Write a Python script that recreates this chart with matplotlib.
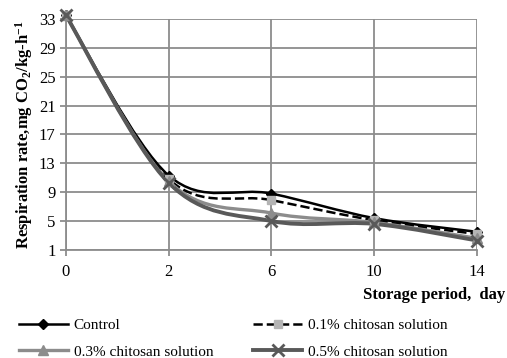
import numpy as np
import matplotlib
matplotlib.use("Agg")
import matplotlib.pyplot as plt
from matplotlib.path import Path
from matplotlib.patches import PathPatch
from matplotlib.lines import Line2D

plt.rcParams['font.family'] = ['Liberation Serif', 'DejaVu Serif']
plt.rcParams['mathtext.fontset'] = 'custom'
plt.rcParams['mathtext.rm'] = 'Liberation Serif:bold'
plt.rcParams['mathtext.it'] = 'Liberation Serif:bold'
plt.rcParams['mathtext.bf'] = 'Liberation Serif:bold'

# data
days = ['0', '2', '6', '10', '14']
control = [33.5, 11.3, 8.8, 5.4, 3.5]
chit_01 = [33.5, 10.8, 7.9, 5.1, 3.2]
chit_03 = [33.5, 10.5, 6.1, 4.8, 2.6]
chit_05 = [33.5, 10.3, 5.0, 4.6, 2.3]
yticks = [1, 5, 9, 13, 17, 21, 25, 29, 33]


def smooth_path(xs, ys):
    # excel style smoothed line, bezier through the points
    pts = np.column_stack([xs, ys]).astype(float)
    n = len(pts)
    verts = [pts[0]]
    codes = [Path.MOVETO]
    for i in range(n - 1):
        p0 = pts[max(i - 1, 0)]
        p1 = pts[i]
        p2 = pts[i + 1]
        p3 = pts[min(i + 2, n - 1)]
        c1 = p1 + (p2 - p0) / 6.0
        c2 = p2 - (p3 - p1) / 6.0
        verts += [c1, c2, p2]
        codes += [Path.CURVE4] * 3
    return Path(verts, codes)


fig = plt.figure(figsize=(5.07, 3.58), dpi=100)
ax = fig.add_axes([0.130, 0.302, 0.811, 0.645])

x = np.arange(len(days))
series = [
    (control, 'Control', '#000000', '-', 1.8, 'D', 5, '#000000', 1),
    (chit_01, '0.1% chitosan solution', '#000000', '--', 1.8, 's', 6, '#b4b4b4', 1),
    (chit_03, '0.3% chitosan solution', '#8c8c8c', '-', 2.4, '^', 7, '#8c8c8c', 1),
    (chit_05, '0.5% chitosan solution', '#595959', '-', 2.8, 'x', 8, '#595959', 2),
]
handles = []
for ys, lab, col, ls, lw, mk, ms, mcol, mew in series:
    patch = PathPatch(smooth_path(x, ys), facecolor='none', edgecolor=col,
                      lw=lw, linestyle=ls, clip_on=False, zorder=3)
    ax.add_patch(patch)
    ax.plot(x, ys, linestyle='none', marker=mk, markersize=ms, color=mcol,
            markeredgewidth=mew, clip_on=False, zorder=4)
    handles.append(Line2D([], [], color=col, linestyle=ls, lw=lw, marker=mk,
                          markersize=ms, markerfacecolor=mcol,
                          markeredgecolor=mcol, markeredgewidth=mew))

ax.set_xlim(0, len(days) - 1)
ax.set_ylim(1, 33)
ax.set_xticks(x)
ax.set_xticklabels(days)
ax.set_yticks(yticks)
ax.grid(True, color='#8c8c8c', lw=1.3)
ax.set_axisbelow(True)
for s in ['top', 'right']:
    ax.spines[s].set_visible(False)
for s in ['left', 'bottom']:
    ax.spines[s].set_color('#8c8c8c')
    ax.spines[s].set_linewidth(1.3)
ax.tick_params(axis='both', colors='#8c8c8c', labelcolor='black',
               labelsize=12, length=4, width=1.3)
ax.tick_params(axis='x', pad=6)

ax.set_ylabel('Respiration rate,mg CO$_2$/kg-h$^{-1}$', fontsize=12,
              fontweight='bold', labelpad=3)
fig.text(0.996, 0.176, 'Storage period,  day', ha='right', va='center',
         fontsize=12, fontweight='bold')

# legend fills by column, so order gives the row layout of the original
labels = [s[1] for s in series]
order = [0, 2, 1, 3]
fig.legend([handles[i] for i in order], [labels[i] for i in order], ncol=2,
           loc='lower left', bbox_to_anchor=(0.01, -0.04), frameon=False,
           fontsize=11, handlelength=3.2, handletextpad=0.4,
           columnspacing=2.6, labelspacing=0.85)

fig.savefig('out.png', dpi=100)
